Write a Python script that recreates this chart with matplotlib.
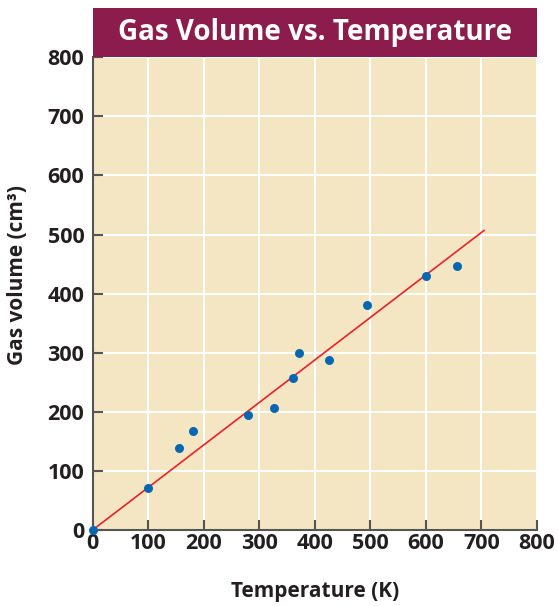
import matplotlib
matplotlib.use("Agg")
import matplotlib.pyplot as plt
from matplotlib.patches import Rectangle

# data
temperature = [0, 100, 156, 180, 280, 326, 360, 372, 425, 494, 600, 657]
volume = [0, 71, 139, 167, 195, 207, 257, 299, 288, 381, 430, 446]
fit_x = [0, 705]
fit_y = [0, 507]
x_ticks = [0, 100, 200, 300, 400, 500, 600, 700, 800]
y_ticks = [0, 100, 200, 300, 400, 500, 600, 700, 800]

BAND = "#8B1C4C"
BEIGE = "#F5E6C3"
DOT = "#0867B2"
LINE = "#E8212B"
INK = "#231F20"
AXIS = "#555555"

plt.rcParams["font.family"] = ["Open Sans", "DejaVu Sans"]

fig = plt.figure(figsize=(5.58, 6.06), dpi=100)
ax = fig.add_axes([0.166, 0.1254, 0.796, 0.78])
ax.set_facecolor(BEIGE)

ax.plot(fit_x, fit_y, color=LINE, linewidth=1.2, zorder=3)
ax.scatter(temperature, volume, s=42, color=DOT, zorder=4, clip_on=False,
           linewidths=0)

ax.set_xlim(0, 800)
ax.set_ylim(0, 800)
ax.set_xticks(x_ticks)
ax.set_yticks(y_ticks)
ax.grid(True, color="white", linewidth=1.4)
ax.set_axisbelow(True)

for side in ("top", "right"):
    ax.spines[side].set_visible(False)
for side in ("left", "bottom"):
    ax.spines[side].set_color(AXIS)
    ax.spines[side].set_linewidth(1.5)

ax.tick_params(direction="in", length=7, width=1.5, color=AXIS,
               labelsize=15.5, labelcolor=INK)
ax.tick_params(axis="x", pad=2)
ax.tick_params(axis="y", pad=6)
for lbl in ax.get_xticklabels() + ax.get_yticklabels():
    lbl.set_fontweight("bold")

ax.set_xlabel("Temperature (K)", fontsize=15, fontweight="bold", color=INK)
ax.set_ylabel("Gas volume (cm³)", fontsize=15, fontweight="bold", color=INK)
ax.xaxis.set_label_coords(0.5, -0.108)
ax.yaxis.set_label_coords(-0.146, 0.54)

# title band
band = Rectangle((0.166, 0.9054), 0.796, 0.0814, transform=fig.transFigure,
                 facecolor=BAND, edgecolor="none")
fig.patches.append(band)
fig.text(0.166 + 0.796 / 2, 0.9054 + 0.0814 / 2, "Gas Volume vs. Temperature",
         color="white", fontsize=20, fontweight="bold",
         ha="center", va="center")

fig.savefig("out.png", dpi=100)
